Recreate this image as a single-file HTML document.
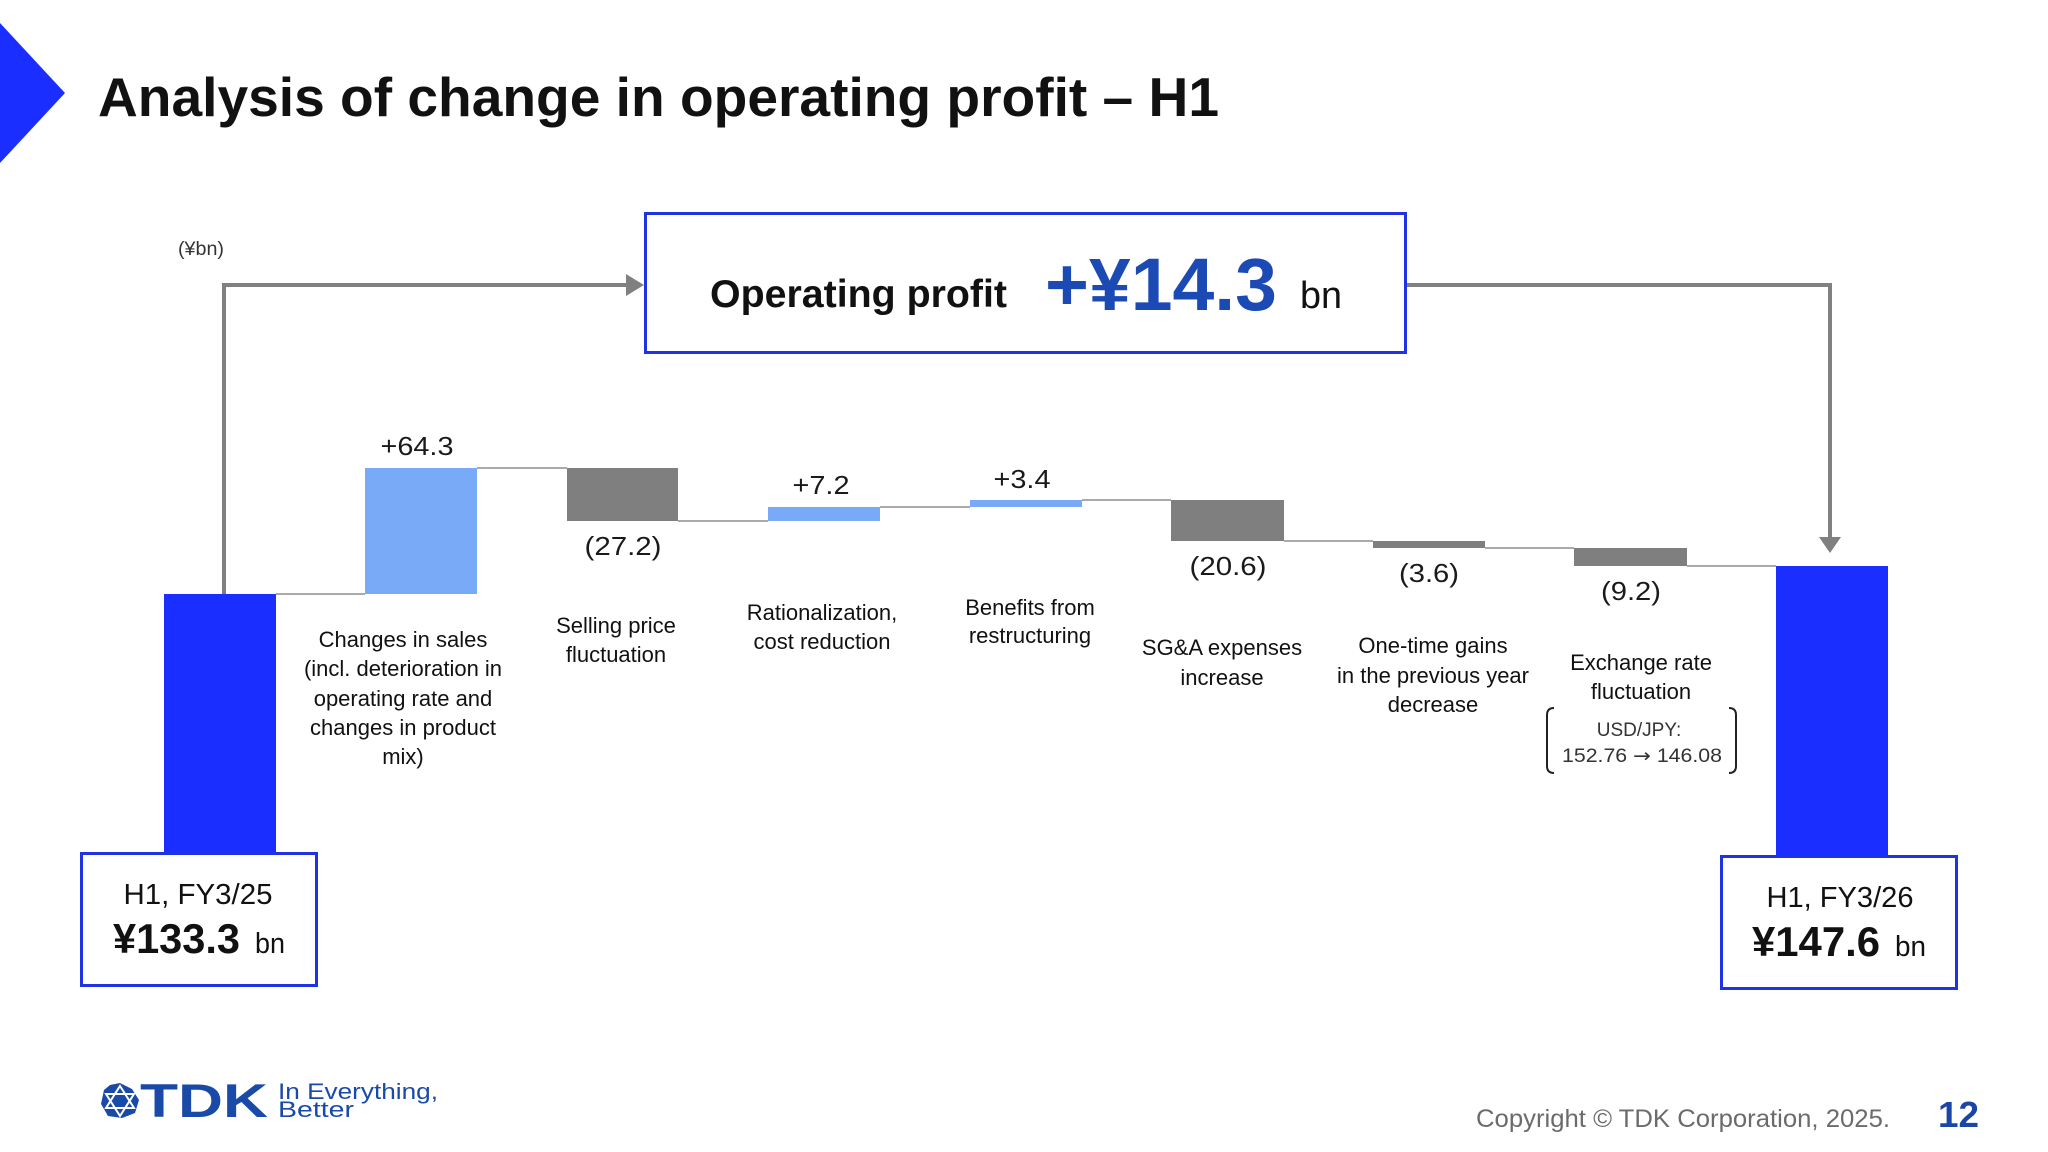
<!DOCTYPE html>
<html><head><meta charset="utf-8"><style>
html,body{margin:0;padding:0;background:#fff;}
svg{display:block;}
text{font-family:"Liberation Sans",Arial,sans-serif;}
</style></head><body>
<svg width="2048" height="1152" viewBox="0 0 2048 1152" xmlns="http://www.w3.org/2000/svg">
<rect width="2048" height="1152" fill="#fff"/>
<!-- chevron -->
<polygon points="0,23 65,93 0,163" fill="#1a2eff"/>
<!-- title -->
<text x="98" y="116" font-size="55" font-weight="bold" fill="#111" textLength="1121" lengthAdjust="spacingAndGlyphs">Analysis of change in operating profit – H1</text>
<text x="178" y="255" font-size="19" fill="#333" textLength="46" lengthAdjust="spacingAndGlyphs">(¥bn)</text>

<!-- arrows -->
<polyline points="224,594 224,285 628,285" fill="none" stroke="#808080" stroke-width="4"/>
<polygon points="626,274 644,285 626,296" fill="#808080"/>
<polyline points="1407,285 1830,285 1830,538" fill="none" stroke="#808080" stroke-width="4"/>
<polygon points="1819,537 1841,537 1830,553" fill="#808080"/>

<!-- operating profit box -->
<rect x="645.5" y="213.5" width="760" height="139" fill="#fff" stroke="#1f33e0" stroke-width="3"/>
<text x="710" y="307" font-size="39" font-weight="bold" fill="#111" textLength="297" lengthAdjust="spacingAndGlyphs">Operating profit</text>
<text x="1045" y="310" font-size="74" font-weight="bold" fill="#1c4ab5" textLength="232" lengthAdjust="spacingAndGlyphs">+¥14.3</text>
<text x="1300" y="308" font-size="38" fill="#111" textLength="42" lengthAdjust="spacingAndGlyphs">bn</text>

<!-- connectors -->
<g stroke="#aaaaaa" stroke-width="2">
<line x1="276" y1="594" x2="365" y2="594"/>
<line x1="477" y1="468" x2="567" y2="468"/>
<line x1="678" y1="521" x2="768" y2="521"/>
<line x1="880" y1="507" x2="970" y2="507"/>
<line x1="1082" y1="500" x2="1171" y2="500"/>
<line x1="1284" y1="541" x2="1373" y2="541"/>
<line x1="1485" y1="548" x2="1574" y2="548"/>
<line x1="1687" y1="566" x2="1776" y2="566"/>
</g>

<!-- bars -->
<rect x="164" y="594" width="112" height="260" fill="#1a2eff"/>
<rect x="365" y="468" width="112" height="126" fill="#78aaf8"/>
<rect x="567" y="468" width="111" height="53" fill="#7f7f7f"/>
<rect x="768" y="507" width="112" height="14" fill="#78aaf8"/>
<rect x="970" y="500" width="112" height="7" fill="#78aaf8"/>
<rect x="1171" y="500" width="113" height="41" fill="#7f7f7f"/>
<rect x="1373" y="541" width="112" height="7" fill="#7f7f7f"/>
<rect x="1574" y="548" width="113" height="18" fill="#7f7f7f"/>
<rect x="1776" y="566" width="112" height="292" fill="#1a2eff"/>

<!-- value labels -->
<g font-size="26" fill="#1a1a1a" text-anchor="middle">
<text x="417" y="455" textLength="73" lengthAdjust="spacingAndGlyphs">+64.3</text>
<text x="623" y="555" textLength="77" lengthAdjust="spacingAndGlyphs">(27.2)</text>
<text x="821" y="494" textLength="57" lengthAdjust="spacingAndGlyphs">+7.2</text>
<text x="1022" y="488" textLength="57" lengthAdjust="spacingAndGlyphs">+3.4</text>
<text x="1228" y="575" textLength="77" lengthAdjust="spacingAndGlyphs">(20.6)</text>
<text x="1429" y="582" textLength="60" lengthAdjust="spacingAndGlyphs">(3.6)</text>
<text x="1631" y="600" textLength="60" lengthAdjust="spacingAndGlyphs">(9.2)</text>
</g>

<!-- category labels -->
<g font-size="22" fill="#111" text-anchor="middle">
<text x="403" y="647">Changes in sales</text>
<text x="403" y="676">(incl. deterioration in</text>
<text x="403" y="706">operating rate and</text>
<text x="403" y="735">changes in product</text>
<text x="403" y="764">mix)</text>
<text x="616" y="633">Selling price</text>
<text x="616" y="662">fluctuation</text>
<text x="822" y="620">Rationalization,</text>
<text x="822" y="649">cost reduction</text>
<text x="1030" y="615">Benefits from</text>
<text x="1030" y="643">restructuring</text>
<text x="1222" y="655">SG&amp;A expenses</text>
<text x="1222" y="685">increase</text>
<text x="1433" y="653">One-time gains</text>
<text x="1433" y="683">in the previous year</text>
<text x="1433" y="712">decrease</text>
<text x="1641" y="670">Exchange rate</text>
<text x="1641" y="699">fluctuation</text>
</g>
<g font-size="19" fill="#333" text-anchor="middle">
<text x="1639" y="736">USD/JPY:</text>
<text x="1642" y="762" textLength="160" lengthAdjust="spacingAndGlyphs">152.76 <tspan font-family="DejaVu Sans, sans-serif">→</tspan> 146.08</text>
</g>
<path d="M1554,708 Q1547,708 1547,715 L1547,766 Q1547,773 1554,773" fill="none" stroke="#222" stroke-width="2"/>
<path d="M1729,708 Q1736,708 1736,715 L1736,766 Q1736,773 1729,773" fill="none" stroke="#222" stroke-width="2"/>

<!-- bottom boxes -->
<rect x="81.5" y="853.5" width="235" height="132" fill="#fff" stroke="#1f33e0" stroke-width="3"/>
<text x="198" y="904" font-size="29" fill="#111" text-anchor="middle" textLength="149" lengthAdjust="spacingAndGlyphs">H1, FY3/25</text>
<text x="113" y="953" font-size="42" font-weight="bold" fill="#111" textLength="127" lengthAdjust="spacingAndGlyphs">¥133.3</text>
<text x="255" y="953" font-size="29" fill="#111" textLength="30" lengthAdjust="spacingAndGlyphs">bn</text>

<rect x="1721.5" y="856.5" width="235" height="132" fill="#fff" stroke="#1f33e0" stroke-width="3"/>
<text x="1840" y="907" font-size="29" fill="#111" text-anchor="middle" textLength="147" lengthAdjust="spacingAndGlyphs">H1, FY3/26</text>
<text x="1752" y="956" font-size="42" font-weight="bold" fill="#111" textLength="128" lengthAdjust="spacingAndGlyphs">¥147.6</text>
<text x="1895" y="956" font-size="29" fill="#111" textLength="31" lengthAdjust="spacingAndGlyphs">bn</text>

<!-- logo -->
<g>
<polygon points="120,1083 132,1089 139,1100 135,1113 122,1118 108,1116 101,1104 104,1090 110,1085" fill="#1a4aa8"/>
<g stroke="#fff" stroke-width="2" fill="none">
<polygon points="120,1086 134,1108 106,1108"/>
<polygon points="120,1116 106,1094 134,1094"/>
</g>
<text x="140" y="1117" font-size="47" font-weight="bold" fill="#1a4aa8" textLength="128" lengthAdjust="spacingAndGlyphs">TDK</text>
<text x="278" y="1099" font-size="22" fill="#1a4aa8" textLength="160" lengthAdjust="spacingAndGlyphs">In Everything,</text>
<text x="278" y="1117" font-size="22" fill="#1a4aa8" textLength="76" lengthAdjust="spacingAndGlyphs">Better</text>
</g>

<!-- footer -->
<text x="1476" y="1127" font-size="25" fill="#6b6b6b" textLength="414" lengthAdjust="spacingAndGlyphs">Copyright  © TDK Corporation, 2025.</text>
<text x="1938" y="1127" font-size="36" font-weight="bold" fill="#1a46a8" textLength="41" lengthAdjust="spacingAndGlyphs">12</text>
</svg>
</body></html>
